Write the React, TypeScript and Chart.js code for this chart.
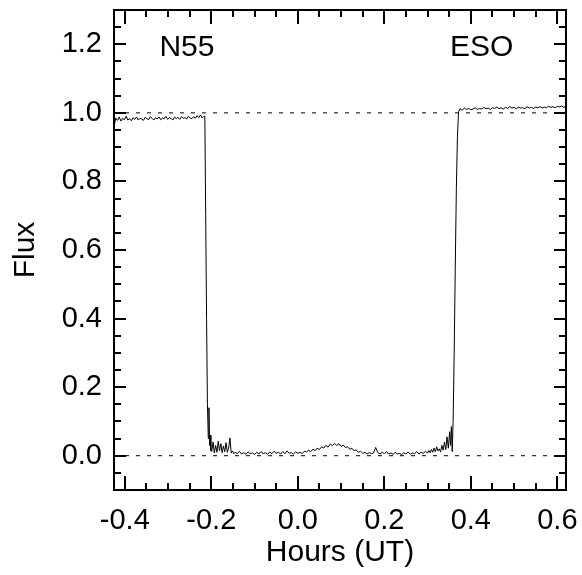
import React, { useEffect, useRef } from "react";
import { Chart, registerables } from "chart.js";

Chart.register(...registerables);

// ---- Data (hours UT, normalized flux) ----
const hoursPre = [
  -0.425, -0.421, -0.417, -0.413, -0.409, -0.405, -0.401, -0.397, -0.393, -0.389,
  -0.385, -0.381, -0.377, -0.373, -0.369, -0.365, -0.361, -0.357, -0.353, -0.349,
  -0.345, -0.341, -0.337, -0.333, -0.329, -0.325, -0.321, -0.317, -0.313, -0.309,
  -0.305, -0.301, -0.297, -0.293, -0.289, -0.285, -0.281, -0.277, -0.273, -0.269,
  -0.265, -0.261, -0.257, -0.253, -0.249, -0.245, -0.241, -0.237, -0.233, -0.229,
  -0.225, -0.221, -0.217,
];
const fluxPre = [
  0.958, 0.985, 0.978, 0.988, 0.976, 0.984, 0.98, 0.99, 0.979, 0.983,
  0.977, 0.986, 0.981, 0.988, 0.979, 0.984, 0.982, 0.978, 0.987, 0.983,
  0.98, 0.989, 0.984, 0.979, 0.986, 0.982, 0.988, 0.98, 0.985, 0.983,
  0.99, 0.981, 0.986, 0.984, 0.979, 0.988, 0.983, 0.987, 0.981, 0.989,
  0.984, 0.986, 0.982, 0.99, 0.985, 0.983, 0.989, 0.984, 0.992, 0.986,
  0.994, 0.985, 0.99,
];

const hoursIngress = [-0.215, -0.213, -0.211, -0.209, -0.207, -0.2055, -0.204, -0.2025, -0.201];
const fluxIngress = [0.99, 0.7, 0.4, 0.15, 0.05, 0.14, 0.03, 0.06, 0.015];

const hoursEarly = [
  -0.199, -0.196, -0.193, -0.19, -0.187, -0.184, -0.181, -0.178, -0.175,
  -0.172, -0.169, -0.166, -0.163, -0.16, -0.157, -0.154, -0.151, -0.148,
];
const fluxEarly = [
  0.012, 0.04, 0.008, 0.03, 0.01, 0.042, 0.015, 0.035, 0.009,
  0.028, 0.012, 0.038, 0.01, 0.022, 0.052, 0.008, 0.014, 0.006,
];

const hoursBottom = [
  -0.145, -0.14, -0.135, -0.13, -0.125, -0.12, -0.115, -0.11, -0.105, -0.1,
  -0.095, -0.09, -0.085, -0.08, -0.075, -0.07, -0.065, -0.06, -0.055, -0.05,
  -0.045, -0.04, -0.035, -0.03, -0.025, -0.02, -0.015, -0.01, -0.005, 0.0,
  0.005, 0.01, 0.015, 0.02, 0.025, 0.03, 0.035, 0.04, 0.045, 0.05,
  0.055, 0.06, 0.065, 0.07, 0.075, 0.08, 0.085, 0.09, 0.095, 0.1,
  0.105, 0.11, 0.115, 0.12, 0.125, 0.13, 0.135, 0.14, 0.145, 0.15,
  0.155, 0.16, 0.165, 0.17, 0.175, 0.18, 0.185, 0.19, 0.195, 0.2,
  0.205, 0.21, 0.215, 0.22, 0.225, 0.23, 0.235, 0.24, 0.245, 0.25,
  0.255, 0.26, 0.265, 0.27, 0.275, 0.28, 0.285, 0.29, 0.295, 0.3,
];
const fluxBottom = [
  0.01, 0.006, 0.013, 0.005, 0.009, 0.004, 0.011, 0.006, 0.008, 0.004,
  0.01, 0.005, 0.012, 0.006, 0.009, 0.004, 0.011, 0.006, 0.013, 0.007,
  0.01, 0.005, 0.012, 0.006, 0.014, 0.007, 0.009, 0.005, 0.011, 0.007,
  0.01, 0.006, 0.013, 0.011, 0.016, 0.012, 0.019, 0.015, 0.022, 0.018,
  0.026, 0.022, 0.03, 0.025, 0.034, 0.029, 0.036, 0.03, 0.035, 0.027,
  0.031, 0.024, 0.026, 0.019, 0.021, 0.015, 0.017, 0.01, 0.013, 0.007,
  0.01, 0.005, 0.009, 0.006, 0.008, 0.024, 0.009, 0.005, 0.01, 0.006,
  0.012, 0.005, 0.008, 0.004, 0.01, 0.005, 0.007, 0.003, 0.009, 0.005,
  0.011, 0.004, 0.008, 0.006, 0.012, 0.005, 0.01, 0.007, 0.013, 0.008,
];

const hoursLate = [
  0.303, 0.306, 0.309, 0.312, 0.315, 0.318, 0.321, 0.324, 0.327, 0.33,
  0.333, 0.336, 0.339, 0.342, 0.345, 0.348, 0.351, 0.353, 0.355, 0.357,
];
const fluxLate = [
  0.015, 0.009, 0.018, 0.01, 0.022, 0.012, 0.026, 0.014, 0.02, 0.011,
  0.03, 0.016, 0.04, 0.018, 0.055, 0.022, 0.07, 0.03, 0.085, 0.012,
];

const hoursEgress = [0.359, 0.3615, 0.364, 0.3665, 0.369, 0.3715];
const fluxEgress = [0.1, 0.3, 0.55, 0.78, 0.93, 1.002];

const hoursPost = [
  0.375, 0.38, 0.385, 0.39, 0.395, 0.4, 0.405, 0.41, 0.415, 0.42,
  0.425, 0.43, 0.435, 0.44, 0.445, 0.45, 0.455, 0.46, 0.465, 0.47,
  0.475, 0.48, 0.485, 0.49, 0.495, 0.5, 0.505, 0.51, 0.515, 0.52,
  0.525, 0.53, 0.535, 0.54, 0.545, 0.55, 0.555, 0.56, 0.565, 0.57,
  0.575, 0.58, 0.585, 0.59, 0.595, 0.6, 0.605, 0.61, 0.615, 0.62,
];
const fluxPost = [
  1.012, 1.008, 1.014, 1.01, 1.013, 1.009, 1.011, 1.015, 1.01, 1.013,
  1.011, 1.016, 1.012, 1.014, 1.01, 1.015, 1.013, 1.017, 1.012, 1.015,
  1.011, 1.016, 1.013, 1.018, 1.014, 1.016, 1.012, 1.017, 1.014, 1.015,
  1.012, 1.018, 1.014, 1.016, 1.013, 1.017, 1.015, 1.018, 1.014, 1.017,
  1.015, 1.019, 1.016, 1.018, 1.015, 1.019, 1.017, 1.02, 1.016, 1.019,
];

const xTickLabels = [-0.4, -0.2, 0.0, 0.2, 0.4, 0.6];
const yTickLabels = [0.0, 0.2, 0.4, 0.6, 0.8, 1.0, 1.2];
const referenceLevels = [1.0, 0.0];
const X_MIN = -0.425;
const X_MAX = 0.62;
const Y_MIN = -0.1;
const Y_MAX = 1.3;

const FONT = '"Liberation Sans", Arial, Helvetica, sans-serif';

function pairs(xs: number[], ys: number[]) {
  const n = Math.min(xs.length, ys.length);
  const out: { x: number; y: number }[] = [];
  for (let i = 0; i < n; i++) out.push({ x: xs[i], y: ys[i] });
  return out;
}

function zeroPadding(s: any) {
  s.paddingTop = 0;
  s.paddingBottom = 0;
  s.paddingLeft = 0;
  s.paddingRight = 0;
}

const framePlugin = {
  id: "idlFrame",
  afterDraw(chart: any) {
    const { ctx, chartArea: a, scales } = chart;
    const xs = scales.x;
    const ys = scales.y;
    ctx.save();
    ctx.strokeStyle = "#000";
    ctx.lineWidth = 2;
    ctx.beginPath();
    for (let i = -8; i <= 12; i++) {
      const v = i * 0.05;
      const len = i % 4 === 0 ? 14 : 7;
      const px = Math.round(xs.getPixelForValue(v));
      ctx.moveTo(px, a.bottom);
      ctx.lineTo(px, a.bottom - len);
      ctx.moveTo(px, a.top);
      ctx.lineTo(px, a.top + len);
    }
    for (let i = -1; i <= 25; i++) {
      const v = i * 0.05;
      const len = i % 4 === 0 ? 12 : 7;
      const py = Math.round(ys.getPixelForValue(v));
      ctx.moveTo(a.left, py);
      ctx.lineTo(a.left + len, py);
      ctx.moveTo(a.right, py);
      ctx.lineTo(a.right - len, py);
    }
    ctx.stroke();
    ctx.strokeRect(a.left, a.top, a.right - a.left, a.bottom - a.top);

    ctx.fillStyle = "#000";
    ctx.font = `30px ${FONT}`;
    ctx.textBaseline = "middle";
    ctx.textAlign = "left";
    ctx.fillText("N55", xs.getPixelForValue(-0.32), ys.getPixelForValue(1.19));
    ctx.textAlign = "center";
    ctx.fillText("ESO", xs.getPixelForValue(0.425), ys.getPixelForValue(1.19));
    ctx.restore();
  },
};

export default function App() {
  const ref = useRef<HTMLCanvasElement | null>(null);

  useEffect(() => {
    if (!ref.current) return;
    const curve = [
      ...pairs(hoursPre, fluxPre),
      ...pairs(hoursIngress, fluxIngress),
      ...pairs(hoursEarly, fluxEarly),
      ...pairs(hoursBottom, fluxBottom),
      ...pairs(hoursLate, fluxLate),
      ...pairs(hoursEgress, fluxEgress),
      ...pairs(hoursPost, fluxPost),
    ];
    const refSets = referenceLevels.map((lv) => ({
      data: [
        { x: X_MIN, y: lv },
        { x: X_MAX, y: lv },
      ],
      borderColor: "#000",
      borderWidth: 1,
      borderDash: [4, 7],
      pointRadius: 0,
      fill: false,
    }));
    const chart = new Chart(ref.current, {
      type: "line",
      data: {
        datasets: [
          ...refSets,
          {
            data: curve,
            borderColor: "#000",
            borderWidth: 1,
            pointRadius: 0,
            tension: 0,
            fill: false,
          },
        ],
      },
      options: {
        animation: false,
        responsive: false,
        maintainAspectRatio: false,
        layout: { padding: { top: 10, right: 16, bottom: 0, left: 0 } },
        plugins: { legend: { display: false }, tooltip: { enabled: false } },
        scales: {
          x: {
            type: "linear",
            min: X_MIN,
            max: X_MAX,
            grid: { display: false, drawTicks: false },
            border: { display: false },
            afterBuildTicks: (s: any) => {
              s.ticks = xTickLabels.map((v) => ({ value: v }));
            },
            afterFit: (s: any) => {
              s.height = 85;
              zeroPadding(s);
            },
            ticks: {
              color: "#000",
              font: { family: FONT, size: 29 },
              padding: 14,
              maxRotation: 0,
              autoSkip: false,
              callback: (v: any) => Number(v).toFixed(1),
            },
            title: {
              display: true,
              text: "Hours (UT)",
              color: "#000",
              font: { family: FONT, size: 30 },
              padding: { top: 0, bottom: 4 },
            },
          },
          y: {
            type: "linear",
            min: Y_MIN,
            max: Y_MAX,
            grid: { display: false, drawTicks: false },
            border: { display: false },
            afterBuildTicks: (s: any) => {
              s.ticks = yTickLabels.map((v) => ({ value: v }));
            },
            afterFit: (s: any) => {
              s.width = 114;
              zeroPadding(s);
            },
            ticks: {
              color: "#000",
              font: { family: FONT, size: 29 },
              padding: 12,
              autoSkip: false,
              callback: (v: any) => Number(v).toFixed(1),
            },
            title: {
              display: true,
              text: "Flux",
              color: "#000",
              font: { family: FONT, size: 30 },
              padding: { top: 8, bottom: 0 },
            },
          },
        },
      },
      plugins: [framePlugin],
    });
    return () => chart.destroy();
  }, []);

  return (
    <div style={{ position: "absolute", left: 0, top: 0, width: 582, height: 575, background: "#fff" }}>
      <canvas ref={ref} width={582} height={575} style={{ width: 582, height: 575 }} />
    </div>
  );
}
